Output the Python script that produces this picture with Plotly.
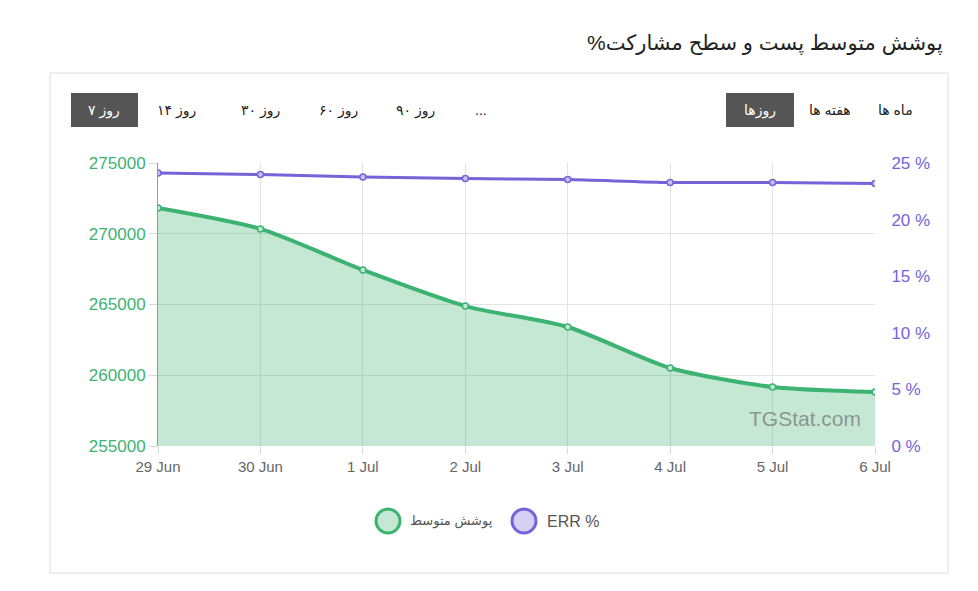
import plotly.graph_objects as go

dates = ["29 Jun", "30 Jun", "1 Jul", "2 Jul", "3 Jul", "4 Jul", "5 Jul", "6 Jul"]
avg_reach = [271820, 270340, 267440, 264890, 263410, 260510, 259170, 258820]
err_pct = [24.12, 23.98, 23.76, 23.63, 23.54, 23.28, 23.28, 23.19]
left_ticks = [255000, 260000, 265000, 270000, 275000]
right_ticks = [0, 5, 10, 15, 20, 25]

GREEN = "#3cb371"
PURPLE = "#7463d9"

# plot area in pixels
L, R, T, B = 158, 875, 163, 446
W, H = 978, 591
PW, PH = R - L, B - T


def px(x):
    return (x - L) / PW


def py(y):
    return (B - y) / PH


fig = go.Figure()
fig.add_trace(go.Scatter(
    x=dates, y=avg_reach, name="پوشش متوسط", mode="lines+markers",
    line=dict(color=GREEN, width=4, shape="spline", smoothing=0.7),
    marker=dict(size=6, color="rgba(196,232,211,1)", line=dict(color=GREEN, width=1.5)),
    fill="tozeroy", fillcolor="rgba(60,179,113,0.3)", yaxis="y", showlegend=False,
))
fig.add_trace(go.Scatter(
    x=dates, y=err_pct, name="ERR %", mode="lines+markers",
    line=dict(color=PURPLE, width=3, shape="spline", smoothing=0.7),
    marker=dict(size=6, color="rgba(200,193,240,1)", line=dict(color=PURPLE, width=1.5)),
    yaxis="y2", showlegend=False,
))

font = "Liberation Sans, Arial, DejaVu Sans, sans-serif"

shapes = [
    dict(type="rect", xref="paper", yref="paper", x0=px(50), x1=px(948), y0=py(73), y1=py(573),
         line=dict(color="#dddddd", width=1), fillcolor="rgba(0,0,0,0)", layer="below"),
    dict(type="rect", xref="paper", yref="paper", x0=px(71), x1=px(138), y0=py(93), y1=py(127),
         line=dict(width=0), fillcolor="#555555"),
    dict(type="rect", xref="paper", yref="paper", x0=px(726), x1=px(794), y0=py(93), y1=py(127),
         line=dict(width=0), fillcolor="#555555"),
    # legend circles
    dict(type="circle", xref="paper", yref="paper", x0=px(376), x1=px(400), y0=py(509), y1=py(533),
         line=dict(color=GREEN, width=3), fillcolor="rgba(60,179,113,0.3)"),
    dict(type="circle", xref="paper", yref="paper", x0=px(512), x1=px(536), y0=py(509), y1=py(533),
         line=dict(color=PURPLE, width=3), fillcolor="rgba(116,99,217,0.3)"),
]

annotations = [
    dict(text="پوشش متوسط پست و سطح مشارکت%\u200F", x=px(945), y=py(43), xref="paper", yref="paper",
         xanchor="right", yanchor="middle", showarrow=False,
         font=dict(family=font, size=21, color="#222222")),
    dict(text="TGStat.com", x=px(805), y=py(418), xref="paper", yref="paper",
         xanchor="center", yanchor="middle", showarrow=False,
         font=dict(family=font, size=21, color="rgba(120,120,120,0.75)")),
    dict(text="پوشش متوسط", x=px(408), y=py(521), xref="paper", yref="paper",
         xanchor="left", yanchor="middle", showarrow=False,
         font=dict(family=font, size=13, color="#555555")),
    dict(text="ERR %", x=px(545), y=py(521), xref="paper", yref="paper",
         xanchor="left", yanchor="middle", showarrow=False,
         font=dict(family=font, size=16, color="#555555")),
]

buttons = [
    ("۷ روز", 104, "white"),
    ("۱۴ روز", 176, "#222222"),
    ("۳۰ روز", 260, "#222222"),
    ("۶۰ روز", 338, "#222222"),
    ("۹۰ روز", 415, "#222222"),
    ("...", 481, "#222222"),
    ("روزها", 760, "white"),
    ("هفته ها", 830, "#222222"),
    ("ماه ها", 895, "#222222"),
]
for txt, cx, col in buttons:
    annotations.append(dict(text=txt, x=px(cx), y=py(110), xref="paper", yref="paper",
                            xanchor="center", yanchor="middle", showarrow=False,
                            font=dict(family=font, size=14, color=col)))

fig.update_layout(
    width=W, height=H, margin=dict(l=L, r=W - R, t=T, b=H - B),
    paper_bgcolor="white", plot_bgcolor="white",
    font=dict(family=font),
    xaxis=dict(type="category", range=[0, len(dates) - 1], showgrid=True, gridcolor="#e3e3e3",
               ticks="outside", ticklen=7, tickcolor="#d8d8d8", showline=False, zeroline=False,
               tickfont=dict(size=15, color="#666666")),
    yaxis=dict(range=[255000, 275000], tickvals=left_ticks, ticktext=[str(v) for v in left_ticks],
               showgrid=True, gridcolor="#e3e3e3", ticks="outside", ticklen=8, tickcolor="#d8d8d8",
               showline=True, linecolor="#999999", linewidth=1, zeroline=False,
               tickfont=dict(size=17, color=GREEN)),
    yaxis2=dict(range=[0, 25], tickvals=right_ticks, ticktext=[f"{v} %" for v in right_ticks],
                overlaying="y", side="right", showgrid=False, zeroline=False,
                ticks="outside", ticklen=12, tickcolor="rgba(0,0,0,0)",
                tickfont=dict(size=17, color=PURPLE)),
    shapes=shapes, annotations=annotations, showlegend=False,
)

fig.write_html("out.html")
